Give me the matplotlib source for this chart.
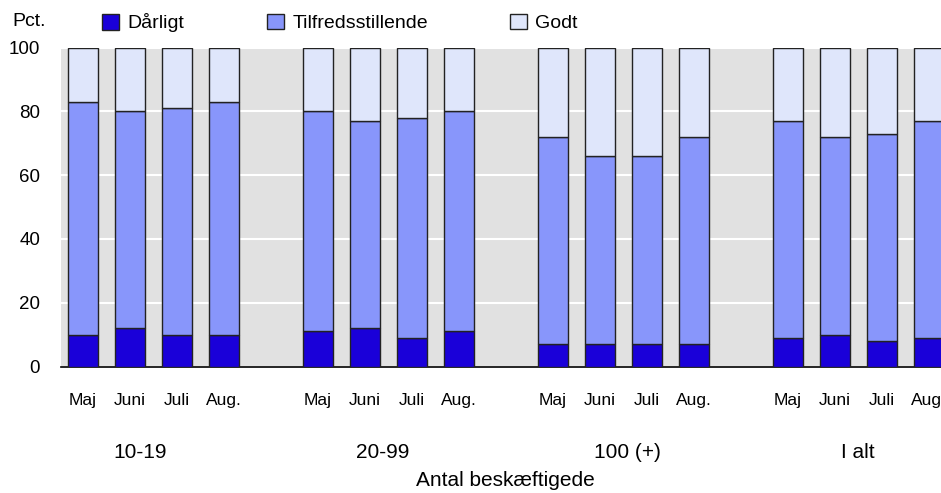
import numpy as np
import matplotlib.pyplot as plt
import matplotlib.transforms as mtransforms

plt.rcParams['font.family'] = ['Liberation Sans', 'DejaVu Sans']

# data
groups = ["10-19", "20-99", "100 (+)", "I alt"]
months = ["Maj", "Juni", "Juli", "Aug."]
darligt = [10, 12, 10, 10, 11, 12, 9, 11, 7, 7, 7, 7, 9, 10, 8, 9]
tilfreds_top = [83, 80, 81, 83, 80, 77, 78, 80, 72, 66, 66, 72, 77, 72, 73, 77]

darligt = np.array(darligt)
tilfreds = np.array(tilfreds_top) - darligt
godt = 100 - np.array(tilfreds_top)

# 4 bars per group, one empty slot between groups
x = np.array([g * 5 + m for g in range(len(groups)) for m in range(len(months))])

c_dar = "#1a00d9"
c_til = "#8896fb"
c_god = "#dfe6fb"
edge = "#222222"

fig = plt.figure(figsize=(9.41, 4.93), dpi=100)
ax = fig.add_axes([61 / 941, (493 - 366.5) / 493, 1 - 61 / 941, (366.5 - 47.5) / 493])
ax.set_facecolor("#e1e1e1")

w = 0.64
b1 = ax.bar(x, darligt, w, color=c_dar, edgecolor=edge, linewidth=1, label="Dårligt", zorder=3)
b2 = ax.bar(x, tilfreds, w, bottom=darligt, color=c_til, edgecolor=edge, linewidth=1,
            label="Tilfredsstillende", zorder=3)
b3 = ax.bar(x, godt, w, bottom=darligt + tilfreds, color=c_god, edgecolor=edge, linewidth=1,
            label="Godt", zorder=3)

ax.set_ylim(0, 100)
ax.set_xlim(-0.47, 18.26)
ax.set_yticks(range(0, 101, 20))
ax.yaxis.grid(True, color="white", linewidth=1.5, zorder=0)
ax.set_axisbelow(True)
ax.tick_params(axis="both", length=0)
ax.tick_params(axis="y", pad=15, labelsize=13.5)
ax.set_xticks(x)
ax.set_xticklabels(months * len(groups), fontsize=12.5)
ax.tick_params(axis="x", pad=19)

for s in ["left", "right", "top"]:
    ax.spines[s].set_visible(False)
ax.spines["bottom"].set_color("black")
ax.spines["bottom"].set_linewidth(1.2)

# group labels under the months
trans = mtransforms.blended_transform_factory(ax.transData, fig.transFigure)
group_x = [1.22, 6.37, 11.58, 16.5]
for gx, name in zip(group_x, groups):
    ax.text(gx, 1 - 452 / 493, name, transform=trans, ha="center", va="center", fontsize=15)
fig.text(505 / 941, 1 - 480 / 493, "Antal beskæftigede", ha="center", va="center", fontsize=15)
fig.text(46 / 941, 1 - 22 / 493, "Pct.", ha="right", va="center", fontsize=14)

# legend entries placed one by one to match the uneven spacing
for bars, lx in [(b1, 102), (b2, 267), (b3, 510)]:
    leg = fig.legend([bars], [bars.get_label()], loc="center left",
                     bbox_to_anchor=(lx / 941, 1 - 23 / 493), frameon=False,
                     fontsize=14, handlelength=0.85, handleheight=0.85, handletextpad=0.45,
                     borderaxespad=0, borderpad=0)

fig.savefig("out.png", dpi=100)
